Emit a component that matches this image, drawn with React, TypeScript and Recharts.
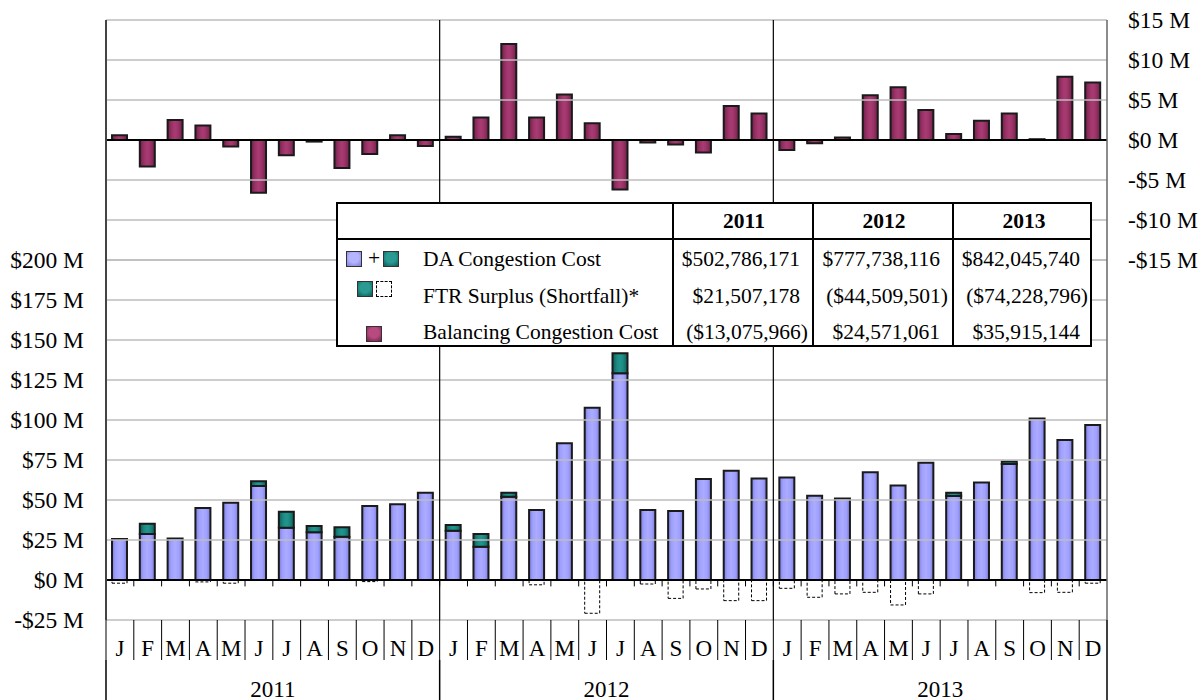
import React from 'react';
import { ComposedChart, Bar, XAxis, YAxis, ReferenceLine } from 'recharts';

const FONT = '"Liberation Serif", "Times New Roman", serif';

// layout
const CHART_W = 1201;
const CHART_H = 700;
const MARGIN = { top: 20, right: 4, bottom: 0, left: 10 };
const X_AXIS_H = 80; // month row + year row
const ROW_H = 40;
const AXIS_TOP = CHART_H - MARGIN.bottom - X_AXIS_H;

const years = ['2011', '2012', '2013'];
const months = ['J', 'F', 'M', 'A', 'M', 'J', 'J', 'A', 'S', 'O', 'N', 'D'];

// $ millions
const daBase = [
  25.6, 28.7, 26, 45, 48.3, 58.7, 32.7, 29.8, 27, 46.2, 47.3, 54.6,
  30.8, 20.8, 52, 43.7, 85.4, 107.7, 129.2, 43.7, 43.1, 63.1, 68.3, 63.5,
  64, 52.7, 51, 67.3, 59, 73.3, 52.5, 61, 72.5, 101, 87.5, 96.9,
];
const ftrSurplus = [
  0, 6.5, 0, 0, 0, 3, 10, 4, 6, 0, 0, 0,
  3.6, 8, 2.5, 0, 0, 0, 12.5, 0, 0, 0, 0, 0,
  0, 0, 0, 0, 0, 0, 2, 0, 1.5, 0, 0, 0,
];
const ftrShortfall = [
  -2, 0, 0, -1.2, -2, 0, 0, 0, 0, -1, 0, 0,
  0, 0, 0, -3, 0, -20.8, 0, -2.5, -11.5, -5.6, -12.9, -12.9,
  -5.2, -10.8, -8.7, -7.7, -15.6, -8.7, 0, 0, 0, -7.9, -7.7, -2,
];
const balancing = [
  0.6, -3.3, 2.5, 1.8, -0.8, -6.6, -1.9, -0.2, -3.5, -1.75, 0.6, -0.75,
  0.4, 2.8, 12, 2.8, 5.7, 2.1, -6.2, -0.3, -0.55, -1.55, 4.25, 3.3,
  -1.25, -0.4, 0.3, 5.6, 6.6, 3.75, 0.75, 2.4, 3.3, 0.1, 7.9, 7.2,
];

const leftTicks = [-25, 0, 25, 50, 75, 100, 125, 150, 175, 200];
const rightTicks = [15, 10, 5, 0, -5, -10, -15];

const tableLabels = ['DA Congestion Cost', 'FTR Surplus (Shortfall)*', 'Balancing Congestion Cost'];
const daTotals = ['$502,786,171', '$777,738,116', '$842,045,740'];
const ftrTotals = ['$21,507,178', '($44,509,501)', '($74,228,796)'];
const balTotals = ['($13,075,966)', '$24,571,061', '$35,915,144'];

const data = years.flatMap((y, yi) =>
  months.map((m, mi) => {
    const i = yi * 12 + mi;
    return {
      key: `${y}-${mi}`,
      da: daBase[i],
      ftr: ftrSurplus[i],
      short: ftrShortfall[i],
      bal: balancing[i],
    };
  })
);

const fmtM = (v: number) => (v < 0 ? `-$${-v} M` : `$${v} M`);

// month letters + separators in the first row, years in the second
const MonthYearTick = (props: any) => {
  const { x, payload, index } = props;
  const off = payload.offset || 0;
  const mi = Number(String(payload.value).split('-')[1]);
  const yi = Math.floor(index / 12);
  const top = AXIS_TOP;
  const last = index === data.length - 1;
  return (
    <g>
      <line x1={x - off} x2={x - off} y1={top} y2={top + ROW_H} stroke="#000" strokeWidth={1} />
      {last && <line x1={x + off} x2={x + off} y1={top} y2={CHART_H} stroke="#000" strokeWidth={1.5} />}
      {mi === 0 && (
        <line x1={x - off} x2={x - off} y1={top + ROW_H} y2={CHART_H} stroke="#000" strokeWidth={1.5} />
      )}
      <text x={x} y={top + 36} textAnchor="middle" fontSize={23} fontFamily={FONT} fill="#000">
        {months[mi]}
      </text>
      {mi === 6 && (
        <text x={x - off} y={top + ROW_H + 37} textAnchor="middle" fontSize={23} fontFamily={FONT} fill="#000">
          {years[yi]}
        </text>
      )}
    </g>
  );
};

const Swatch = ({ bg, edge, dashed, style }: any) => (
  <div
    style={{
      position: 'absolute',
      width: 14,
      height: 14,
      border: dashed ? '1.5px dashed #000' : '1.5px solid #333',
      background: dashed ? '#fff' : `radial-gradient(circle at 50% 40%, ${bg} 45%, ${edge} 100%)`,
      ...style,
    }}
  />
);

const cell = (text: string, left: number, width: number, top: number, extra: any = {}) => (
  <div
    key={`${text}-${left}-${top}`}
    style={{
      position: 'absolute',
      left,
      width,
      top: top - 14,
      height: 28,
      lineHeight: '28px',
      whiteSpace: 'nowrap',
      ...extra,
    }}
  >
    {text}
  </div>
);

const colLeft = [336, 476, 616];
const rowMid = [55, 92, 128];
const valueCols = [daTotals, ftrTotals, balTotals];

function SummaryTable() {
  return (
    <div
      style={{
        position: 'absolute',
        left: 336,
        top: 202,
        width: 756,
        height: 145,
        background: '#fff',
        border: '2px solid #000',
        boxSizing: 'border-box',
        fontFamily: FONT,
        fontSize: 21.5,
        color: '#000',
      }}
    >
      <div style={{ position: 'absolute', left: 0, right: 0, top: 34, height: 2, background: '#000' }} />
      {colLeft.map((l) => (
        <div key={l} style={{ position: 'absolute', left: l - 2, top: 0, bottom: 0, width: 2, background: '#000' }} />
      ))}
      {years.map((y, i) =>
        cell(y, colLeft[i], 140, 17, { textAlign: 'center', fontWeight: 'bold' })
      )}
      {tableLabels.map((t, r) => cell(t, 85, 250, rowMid[r]))}
      {valueCols.map((vals, r) =>
        vals.map((v, c) =>
          cell(v, colLeft[c] - 2, 140, rowMid[r], {
            textAlign: 'right',
            boxSizing: 'border-box',
            paddingRight: v.startsWith('(') ? 4 : 12,
          })
        )
      )}
      <Swatch bg="#b4b4ff" edge="#7c7cd8" style={{ left: 8, top: 47 }} />
      <div style={{ position: 'absolute', left: 30, top: 40, lineHeight: '28px' }}>+</div>
      <Swatch bg="#2a9a92" edge="#0c5a55" style={{ left: 45, top: 47 }} />
      <Swatch bg="#2a9a92" edge="#0c5a55" style={{ left: 19, top: 77 }} />
      <Swatch dashed style={{ left: 38, top: 77 }} />
      <Swatch bg="#b84a80" edge="#6e1f48" style={{ left: 28, top: 122 }} />
    </div>
  );
}

export default function App() {
  const lastKey = data[data.length - 1].key;
  return (
    <div style={{ position: 'absolute', left: 0, top: 0, width: CHART_W, height: CHART_H, background: '#fff', overflow: 'hidden' }}>
      <ComposedChart
        width={CHART_W}
        height={CHART_H}
        data={data}
        stackOffset="sign"
        barCategoryGap={0}
        margin={MARGIN}
      >
        <defs>
          <linearGradient id="gBlue" x1="0" y1="0" x2="1" y2="0">
            <stop offset="0" stopColor="#7c7cd8" />
            <stop offset="0.25" stopColor="#a0a0ff" />
            <stop offset="0.5" stopColor="#ababff" />
            <stop offset="0.75" stopColor="#a0a0ff" />
            <stop offset="1" stopColor="#7c7cd8" />
          </linearGradient>
          <linearGradient id="gTeal" x1="0" y1="0" x2="1" y2="0">
            <stop offset="0" stopColor="#0c5f5a" />
            <stop offset="0.3" stopColor="#1b8a83" />
            <stop offset="0.5" stopColor="#22958d" />
            <stop offset="0.7" stopColor="#1b8a83" />
            <stop offset="1" stopColor="#0c5f5a" />
          </linearGradient>
          <linearGradient id="gPlum" x1="0" y1="0" x2="1" y2="0">
            <stop offset="0" stopColor="#70204a" />
            <stop offset="0.3" stopColor="#9c3368" />
            <stop offset="0.5" stopColor="#a83c72" />
            <stop offset="0.7" stopColor="#9c3368" />
            <stop offset="1" stopColor="#70204a" />
          </linearGradient>
        </defs>

        <XAxis
          xAxisId="m"
          dataKey="key"
          height={X_AXIS_H}
          interval={0}
          axisLine={false}
          tickLine={false}
          tickSize={0}
          tickMargin={0}
          tick={MonthYearTick}
        />
        <XAxis xAxisId="b" dataKey="key" hide />
        <YAxis
          yAxisId="l"
          width={96}
          domain={[-25, 350]}
          ticks={leftTicks}
          interval={0}
          allowDataOverflow
          axisLine={false}
          tickLine={false}
          tickSize={0}
          tickMargin={22}
          tickFormatter={fmtM}
          tick={{ fontSize: 23.5, fill: '#000', fontFamily: FONT }}
        />
        <YAxis
          yAxisId="r"
          orientation="right"
          width={90}
          domain={[-60, 15]}
          ticks={rightTicks}
          interval={0}
          allowDataOverflow
          axisLine={false}
          tickLine={false}
          tickSize={0}
          tickMargin={21}
          tickFormatter={fmtM}
          tick={{ fontSize: 23.5, fill: '#000', fontFamily: FONT }}
        />

        {leftTicks.filter((v) => v !== 0).map((v) => (
          <ReferenceLine key={`gl${v}`} xAxisId="m" yAxisId="l" y={v} stroke="#bdbdbd" strokeWidth={1.5} />
        ))}
        {rightTicks.filter((v) => v !== 0).map((v) => (
          <ReferenceLine key={`gr${v}`} xAxisId="m" yAxisId="r" y={v} stroke="#bdbdbd" strokeWidth={1.5} />
        ))}

        {data.slice(1).map((d) => (
          <ReferenceLine
            key={`zt${d.key}`}
            xAxisId="m"
            yAxisId="l"
            position="start"
            segment={[{ x: d.key, y: 0 }, { x: d.key, y: -4 }]}
            stroke="#000"
            strokeWidth={1}
          />
        ))}

        <Bar xAxisId="m" yAxisId="l" dataKey="da" stackId="s" barSize={15} fill="url(#gBlue)" stroke="#1a1a1a" strokeWidth={2} isAnimationActive={false} />
        <Bar xAxisId="m" yAxisId="l" dataKey="ftr" stackId="s" barSize={15} fill="url(#gTeal)" stroke="#1a1a1a" strokeWidth={2} isAnimationActive={false} />
        <Bar xAxisId="m" yAxisId="l" dataKey="short" stackId="s" barSize={15} fill="#fff" stroke="#000" strokeWidth={1} strokeDasharray="3 2" isAnimationActive={false} />
        <Bar xAxisId="b" yAxisId="r" dataKey="bal" barSize={15} fill="url(#gPlum)" stroke="#1a1a1a" strokeWidth={2} isAnimationActive={false} />

        <ReferenceLine xAxisId="m" yAxisId="l" y={0} stroke="#000" strokeWidth={2} />
        <ReferenceLine xAxisId="m" yAxisId="r" y={0} stroke="#000" strokeWidth={2} />

        {years.map((y, i) => (
          <ReferenceLine
            key={`yb${y}`}
            xAxisId="m"
            yAxisId="l"
            x={data[i * 12].key}
            position="start"
            stroke={i === 0 ? '#444' : '#000'}
            strokeWidth={i === 0 ? 2 : 1.2}
          />
        ))}
        <ReferenceLine xAxisId="m" yAxisId="l" x={lastKey} position="end" stroke="#666" strokeWidth={1.5} />
      </ComposedChart>
      <SummaryTable />
    </div>
  );
}
